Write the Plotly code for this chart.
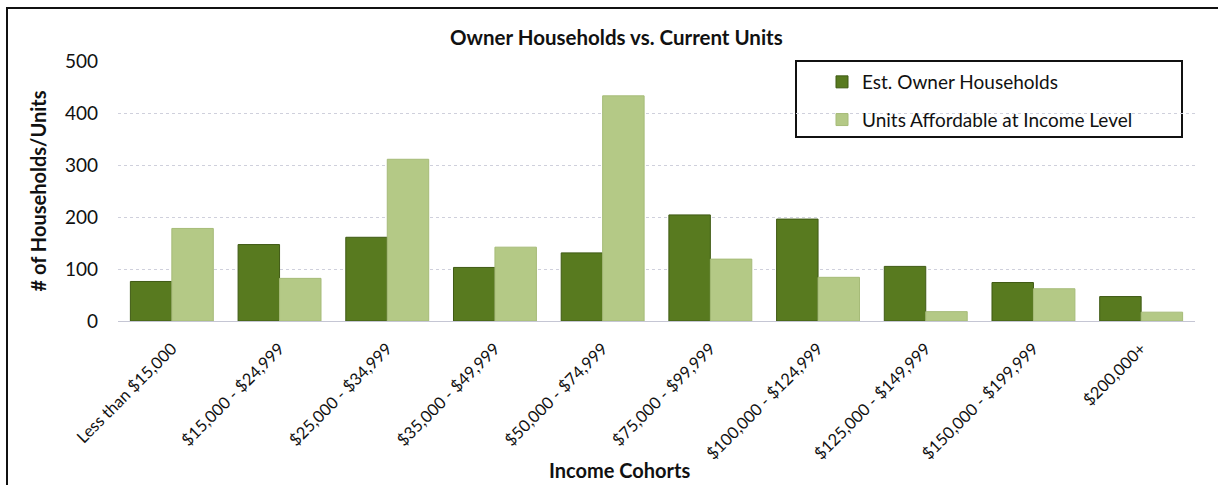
import plotly.graph_objects as go

categories = ["Less than $15,000", "$15,000 - $24,999", "$25,000 - $34,999", "$35,000 - $49,999",
              "$50,000 - $74,999", "$75,000 - $99,999", "$100,000 - $124,999", "$125,000 - $149,999",
              "$150,000 - $199,999", "$200,000+"]
owner_households = [76, 147, 161, 103, 131, 204, 196, 105, 74, 47]
units_affordable = [178, 82, 311, 142, 433, 119, 84, 18, 62, 17]
y_ticks = [0, 100, 200, 300, 400, 500]

W, H = 1218, 485
L, R, T, B = 118, 23, 61, 164
pw, ph = W - L - R, H - T - B

def px_x(px):
    return (px - L) / pw

def px_y(py):
    return (H - B - py) / ph

FONT = "Lato"
DARK = "#587a1f"
LIGHT = "#b4c986"
INK = "#111111"

fig = go.Figure()
fig.add_trace(go.Bar(x=categories, y=owner_households, name="Est. Owner Households",
                     legendgroup="a",
                     marker=dict(color=DARK, line=dict(color="#3f5a14", width=1))))
fig.add_trace(go.Bar(x=categories, y=units_affordable, name="Units Affordable at Income Level",
                     legendgroup="b",
                     marker=dict(color=LIGHT, line=dict(color="#a6bb78", width=1))))

fig.update_layout(
    width=W, height=H,
    margin=dict(l=L, r=R, t=T, b=B, autoexpand=False),
    paper_bgcolor="white", plot_bgcolor="white",
    barmode="group", bargap=0.23, bargroupgap=0,
    font=dict(family=FONT, color=INK),
    showlegend=True,
    legend=dict(x=px_x(822), y=px_y(63), xanchor="left", yanchor="top",
                borderwidth=0, bgcolor="rgba(255,255,255,0)",
                font=dict(size=19, family=FONT, color=INK),
                itemwidth=30, tracegroupgap=10),
    xaxis=dict(tickangle=-45, tickfont=dict(size=16.5, family=FONT, color=INK),
               showgrid=False, showline=False, ticks="", automargin=False,
               ticklabelstandoff=14),
    yaxis=dict(range=[0, 500], tickvals=y_ticks, tickfont=dict(size=19, family=FONT, color=INK),
               showgrid=True, gridcolor="#cfd0dc", gridwidth=1, griddash="dot",
               zeroline=True, zerolinecolor="#c5c6d4", zerolinewidth=1,
               ticks="", ticklabelstandoff=19, automargin=False,
               title=dict(text="<b># of Households/Units</b>", font=dict(size=20, family=FONT, color=INK),
                          standoff=12)),
    annotations=[
        dict(text="<b>Owner Households vs. Current Units</b>", x=px_x(616), y=px_y(37),
             xref="paper", yref="paper", showarrow=False, xanchor="center", yanchor="middle",
             font=dict(size=20.5, family=FONT, color=INK)),
        dict(text="<b>Income Cohorts</b>", x=px_x(619), y=px_y(470),
             xref="paper", yref="paper", showarrow=False, xanchor="center", yanchor="middle",
             font=dict(size=20, family=FONT, color=INK)),
    ],
    shapes=[
        dict(type="rect", xref="paper", yref="paper",
             x0=px_x(7), x1=px_x(1240), y0=px_y(500), y1=px_y(8),
             line=dict(color=INK, width=2), fillcolor="rgba(0,0,0,0)", layer="above"),
        dict(type="rect", xref="paper", yref="paper",
             x0=px_x(796), x1=px_x(1182), y0=px_y(137), y1=px_y(61),
             line=dict(color=INK, width=2), fillcolor="white", layer="below"),
    ],
)

fig.write_html("out.html")
